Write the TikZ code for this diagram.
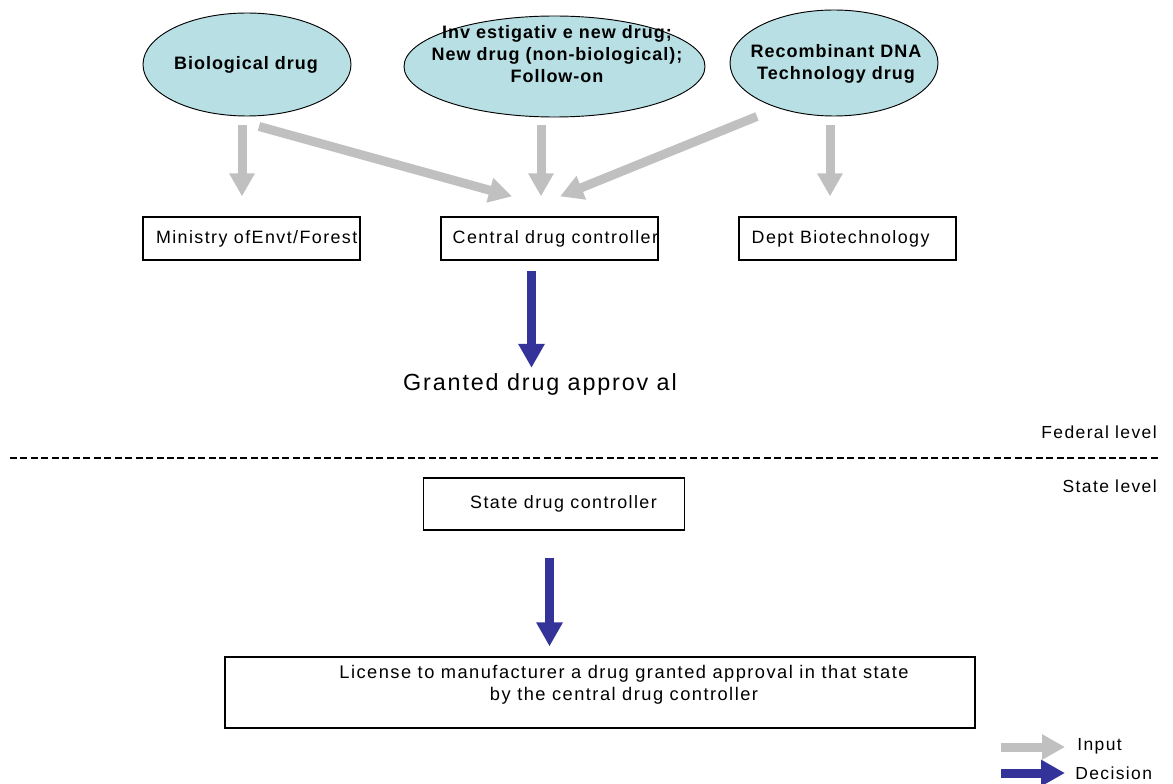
\documentclass[tikz,border=0pt]{standalone}
\usepackage{fontspec}
\setmainfont{Liberation Sans}[LetterSpace=8]
\newfontfamily\ovalfont{Liberation Sans}[LetterSpace=5.5]
\usetikzlibrary{arrows.meta,shapes.geometric}

\definecolor{ovalfill}{RGB}{184,224,228}
\definecolor{inputgray}{RGB}{192,192,192}
\definecolor{decisionblue}{RGB}{51,51,153}

\begin{document}
\begin{tikzpicture}[x=0.75pt,y=-0.75pt,
  oval/.style={ellipse, draw=black, line width=0.7pt, fill=ovalfill, inner sep=0pt},
  ovaltext/.style={inner sep=0pt, align=center,
    font=\ovalfont\bfseries\fontsize{13.5}{16.5}\selectfont},
  box/.style={draw=black, line width=0.9pt, inner sep=0pt},
  boxtext/.style={anchor=west, inner sep=0pt, font=\fontsize{13.4}{16.5}\selectfont},
  plaintext/.style={inner sep=0pt, font=\fontsize{13.1}{16.5}\selectfont},
  inputarrow/.style={draw=inputgray, line width=6.75pt,
    -{Triangle[width=18pt,length=17.25pt,color=inputgray]}},
  decisionarrow/.style={draw=decisionblue, line width=6.75pt,
    -{Triangle[width=18.75pt,length=18pt,color=decisionblue]}},
  levelline/.style={draw=black, line width=1.1pt, dash pattern=on 5.25pt off 2.6pt}
]
\path[use as bounding box] (0,0) rectangle (1173,784);

% drug categories
\node[oval, minimum width=156pt, minimum height=77.25pt] (bio) at (247,64.5) {};
\node[ovaltext] (biotext) at (246,65) {Biological drug};
\node[oval, minimum width=225.75pt, minimum height=75.75pt] (inv) at (554.5,66.5) {};
\node[ovaltext] (invtext) at (557,54) {Inv estigativ e new drug;\\New drug (non-biological);\\Follow-on};
\node[oval, minimum width=156pt, minimum height=79.5pt] (rec) at (834,63) {};
\node[ovaltext] (rectext) at (836,64) {Recombinant DNA\\Technology drug};

% federal agencies
\node[box, minimum width=162.75pt, minimum height=32.25pt] (min) at (251.5,238.5) {};
\node[boxtext] (mintext) at ([xshift=10pt]min.west) {Ministry ofEnvt/Forest};
\node[box, minimum width=162.75pt, minimum height=32.25pt] (cen) at (549.5,238.5) {};
\node[boxtext] (centext) at ([xshift=9pt]cen.west) {Central drug controller};
\node[box, minimum width=162.75pt, minimum height=32.25pt] (dbt) at (847.5,238.5) {};
\node[boxtext] (dbttext) at ([xshift=9.75pt]dbt.west) {Dept Biotechnology};

\node[inner sep=0pt, anchor=base, font=\fontsize{17.5}{20}\selectfont] (gr) at (540,390) {Granted drug approv al};

% inputs
\draw[inputarrow] ([shift={(-5,9)}]bio.south) -- ([shift={(-9.5,-20)}]min.north);
\draw[inputarrow] ([shift={(12,10)}]bio.south) -- ([shift={(-37.5,-20)}]cen.north);
\draw[inputarrow] ([shift={(-13.5,8)}]inv.south) -- ([shift={(-8.5,-20)}]cen.north);
\draw[inputarrow] ([shift={(-77,0)}]rec.south) -- ([shift={(10.5,-20)}]cen.north);
\draw[inputarrow] ([shift={(-4,9)}]rec.south) -- ([shift={(-17.5,-20)}]dbt.north);

% decision
\draw[decisionarrow] ([shift={(-18,10)}]cen.south) -- ([shift={(-8.5,-5)}]gr.north);

% federal / state boundary
\coordinate (lineL) at (10,458);
\coordinate (lineR) at (1160,458);
\draw[levelline] (lineL) -- (lineR);
\node[plaintext, anchor=east] (fed) at (1157,432) {Federal level};
\node[plaintext, anchor=east] (sta) at (1157,486) {State level};

% state level
\node[box, minimum width=195.75pt, minimum height=39pt] (st) at (554,504) {};
\node[boxtext] (sttext) at ([xshift=35.25pt]st.west) {State drug controller};
\node[box, minimum width=562.5pt, minimum height=53.25pt] (lic) at (600,692.5) {};
\node[inner sep=0pt, align=center, font=\fontsize{13.7}{16.5}\selectfont] (lictext) at (624,685) {License to manufacturer a drug granted approval in that state\\by the central drug controller};
\draw[decisionarrow] ([shift={(-4.5,27)}]st.south) -- ([shift={(-50.5,-10)}]lic.north);

% legend
\coordinate (inA) at (1001,747);
\coordinate (inB) at (1065,747);
\coordinate (deA) at (1001,773);
\coordinate (deB) at (1065,773);
\draw[inputarrow] (inA) -- (inB);
\draw[decisionarrow] (deA) -- (deB);
\node[plaintext, anchor=west] (inlab) at (1077,746) {Input};
\node[plaintext, anchor=west] (delab) at (1075,773) {Decision};
\end{tikzpicture}
\end{document}
